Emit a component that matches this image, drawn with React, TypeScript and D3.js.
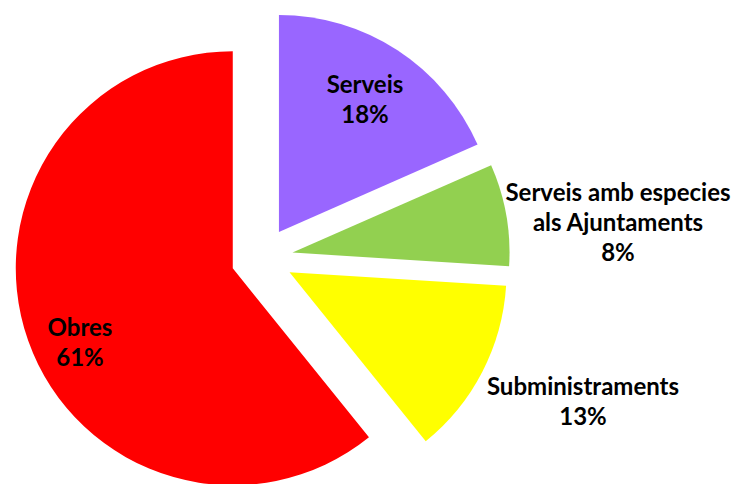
import * as d3 from "d3"
import { useEffect, useRef } from "react"

const categories = ["Serveis", "Serveis amb especies als Ajuntaments", "Subministraments", "Obres"]
const values = [18.4, 7.6, 13.2, 60.8]
const labelLines = [
  ["Serveis"],
  ["Serveis amb especies", "als Ajuntaments"],
  ["Subministraments"],
  ["Obres"],
]
const colors = ["#9966FF", "#92D050", "#FFFF00", "#FF0000"]

// label anchors (center x, first baseline y)
const LABEL_POS = [
  [365, 93],
  [618, 201],
  [583, 395],
  [80, 336],
]

const W = 736
const H = 484

const App = () => {
  const svgRef = useRef<SVGSVGElement>(null)

  useEffect(() => {
    if (!svgRef.current) return
    const svg = d3.select(svgRef.current)
    svg.selectAll("*").remove()

    const cx = 262
    const cy = 258
    const r = 217
    const explode = 31

    const pie = d3.pie<number>().sort(null).value((d) => d)
    const arcs = pie(values)
    const arc = d3.arc<d3.PieArcDatum<number>>().innerRadius(0).outerRadius(r)

    const g = svg.append("g").attr("transform", `translate(${cx},${cy})`)

    g.selectAll("path")
      .data(arcs)
      .join("path")
      .attr("d", arc)
      .attr("fill", (_, i) => colors[i])
      .attr("transform", (d) => {
        const a = (d.startAngle + d.endAngle) / 2
        return `translate(${Math.sin(a) * explode},${-Math.cos(a) * explode})`
      })

    const total = d3.sum(values)

    const labels = svg
      .selectAll("text.lbl")
      .data(categories)
      .join("text")
      .attr("class", "lbl")
      .attr("text-anchor", "middle")
      .attr("font-family", "Lato, 'Open Sans', sans-serif")
      .attr("font-weight", "bold")
      .attr("font-size", 24)
      .attr("fill", "#000")

    labels.each(function (_, i) {
      const t = d3.select(this)
      const lines = [...labelLines[i], `${Math.round((values[i] / total) * 100)}%`]
      lines.forEach((line, j) => {
        t.append("tspan")
          .attr("x", LABEL_POS[i][0])
          .attr("y", LABEL_POS[i][1] + j * 30)
          .text(line)
      })
    })
  }, [])

  return (
    <div style={{ position: "fixed", left: 0, top: 0, width: W, height: H, background: "#fff" }}>
      <svg ref={svgRef} width={W} height={H} style={{ display: "block" }} />
    </div>
  )
}

export default App
